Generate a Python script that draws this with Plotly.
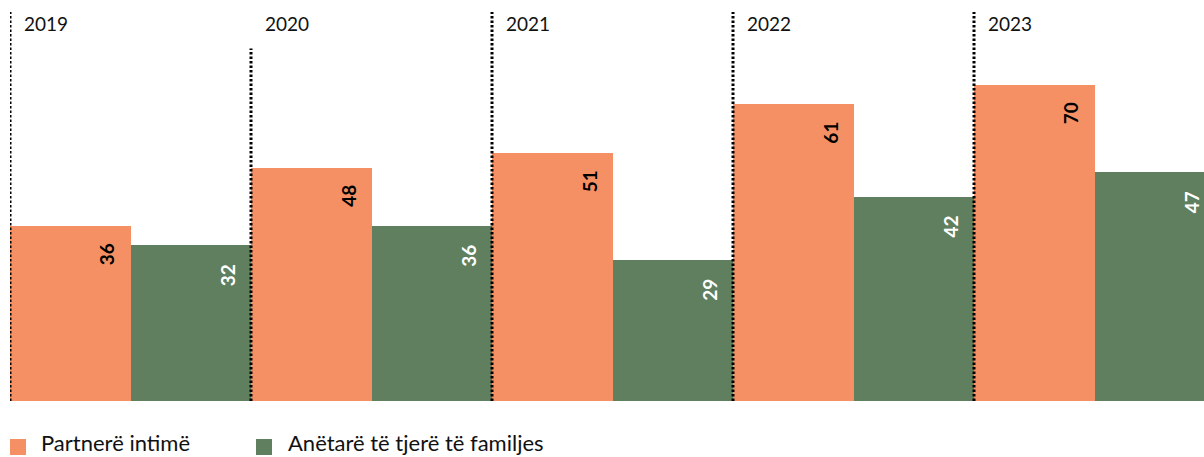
import plotly.graph_objects as go

years = ["2019", "2020", "2021", "2022", "2023"]
partner_values = [36, 48, 51, 61, 65]
partner_labels = ["36", "48", "51", "61", "70"]
family_values = [32, 36, 29, 42, 47]
family_labels = ["32", "36", "29", "42", "47"]
series_names = ["Partnerë intimë", "Anëtarë të tjerë të familjes"]
divider_tops = [80, 72.5, 80, 80, 80]

ORANGE = "#F59064"
GREEN = "#5F7F5F"
FONT = "Lato"

idx = list(range(len(years)))

fig = go.Figure()
fig.add_trace(go.Bar(x=[i + 0.25 for i in idx], y=partner_values, width=0.5,
                     marker=dict(color=ORANGE, line=dict(width=0)),
                     name=series_names[0], hoverinfo="skip"))
fig.add_trace(go.Bar(x=[i + 0.75 for i in idx], y=family_values, width=0.5,
                     marker=dict(color=GREEN, line=dict(width=0)),
                     name=series_names[1], hoverinfo="skip"))

annotations = []
for i in idx:
    annotations.append(dict(x=i + 0.25, y=partner_values[i], xref="x", yref="y",
                            text=partner_labels[i], textangle=-90, showarrow=False,
                            xanchor="center", yanchor="middle", xshift=37, yshift=-28,
                            font=dict(family=FONT, size=19, color="#000000", weight="bold")))
    annotations.append(dict(x=i + 0.75, y=family_values[i], xref="x", yref="y",
                            text=family_labels[i], textangle=-90, showarrow=False,
                            xanchor="center", yanchor="middle", xshift=37, yshift=-30,
                            font=dict(family=FONT, size=19, color="#FFFFFF", weight="bold")))
    annotations.append(dict(x=i, y=80, xref="x", yref="y", text=years[i], showarrow=False,
                            xanchor="left", yanchor="middle", xshift=12, yshift=-11,
                            font=dict(family=FONT, size=19, color="#111111")))

shapes = []
for i in idx:
    shapes.append(dict(type="line", xref="x", yref="y", x0=i, x1=i, y0=0, y1=divider_tops[i],
                       line=dict(color="#000000", width=3, dash="2.5px,2px"), layer="above"))

# custom legend (pixel positions relative to figure)
FIG_W, FIG_H = 1204, 457
legend_items = [(series_names[0], ORANGE, 10, 39), (series_names[1], GREEN, 256, 286)]
for name, color, sx, tx in legend_items:
    shapes.append(dict(type="rect", xref="paper", yref="paper",
                       x0=(sx - 10) / 1194, x1=(sx + 16 - 10) / 1194,
                       y0=-(439 + 16 - 401) / 389, y1=-(439 - 401) / 389,
                       fillcolor=color, line=dict(width=0)))
    annotations.append(dict(x=(tx - 10) / 1194, y=-(442 - 401) / 389, xref="paper", yref="paper",
                            text=name, showarrow=False, xanchor="left", yanchor="middle",
                            font=dict(family=FONT, size=22, color="#111111")))

fig.update_layout(
    width=FIG_W, height=FIG_H,
    margin=dict(l=10, r=0, t=12, b=56),
    paper_bgcolor="white", plot_bgcolor="white",
    barmode="overlay", bargap=0,
    xaxis=dict(range=[0, 1194 / 241], showgrid=False, zeroline=False, showticklabels=False,
               showline=False, fixedrange=True),
    yaxis=dict(range=[0, 80], showgrid=False, zeroline=False, showticklabels=False,
               showline=False, fixedrange=True),
    showlegend=False,
    annotations=annotations, shapes=shapes,
    font=dict(family=FONT),
)

fig.write_html("out.html", config={"displayModeBar": False},
               post_script="document.body.style.margin='0';document.body.style.overflow='hidden';")
